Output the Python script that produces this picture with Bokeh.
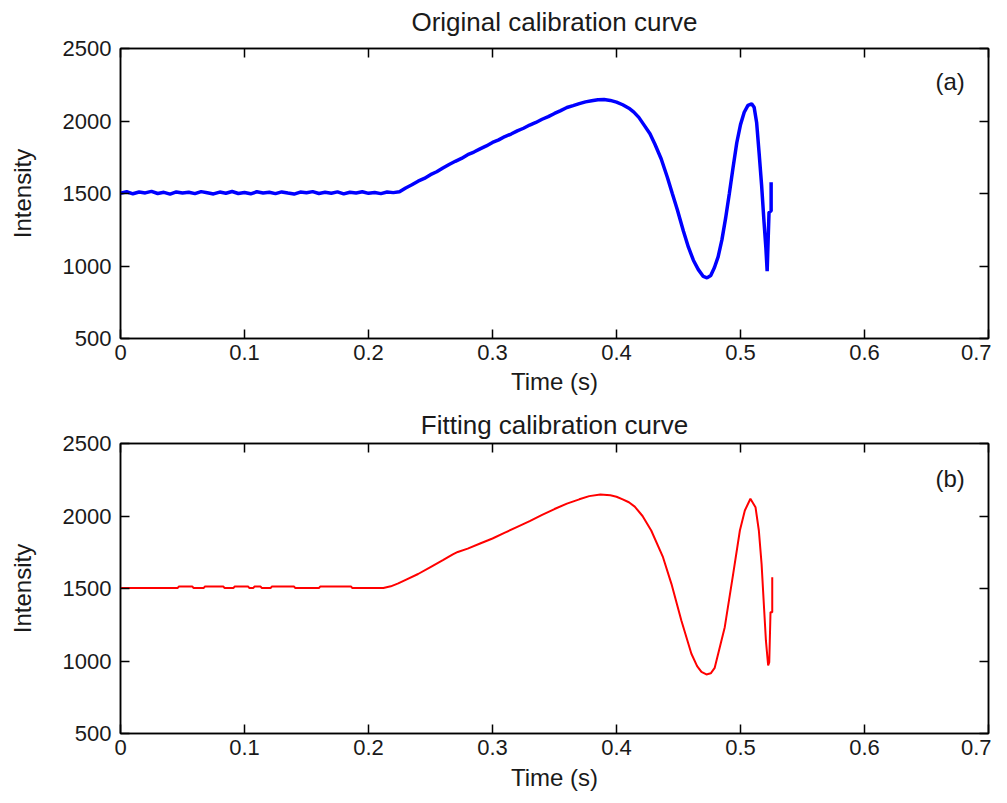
from bokeh.plotting import figure
from bokeh.layouts import column
from bokeh.models import Range1d, FixedTicker, LinearAxis, Label, CustomJSTickFormatter
from bokeh.embed import file_html
from bokeh.resources import INLINE

# ---------------- data ----------------
x_ticks = [0, 0.1, 0.2, 0.3, 0.4, 0.5, 0.6, 0.7]
y_ticks = [500, 1000, 1500, 2000, 2500]

orig_time = [
    0.000, 0.005, 0.010, 0.015, 0.020, 0.025, 0.030, 0.035, 0.040, 0.045,
    0.050, 0.055, 0.060, 0.065, 0.070, 0.075, 0.080, 0.085, 0.090, 0.095,
    0.100, 0.105, 0.110, 0.115, 0.120, 0.125, 0.130, 0.135, 0.140, 0.145,
    0.150, 0.155, 0.160, 0.165, 0.170, 0.175, 0.180, 0.185, 0.190, 0.195,
    0.200, 0.205, 0.210, 0.215, 0.220,
    0.225, 0.230, 0.235, 0.240, 0.245, 0.250, 0.255, 0.260, 0.265, 0.270,
    0.275, 0.280, 0.285, 0.290, 0.295, 0.300, 0.305, 0.310, 0.315, 0.320,
    0.325, 0.330, 0.335, 0.340, 0.345, 0.350, 0.355, 0.360, 0.365, 0.370,
    0.375, 0.380, 0.385, 0.390, 0.395, 0.400, 0.405, 0.410, 0.414, 0.418,
    0.422, 0.427, 0.431, 0.436, 0.441, 0.445, 0.449, 0.454, 0.458, 0.462,
    0.466, 0.470, 0.473, 0.476, 0.479, 0.482, 0.485, 0.488, 0.491, 0.494,
    0.497, 0.500, 0.503, 0.506, 0.509, 0.511, 0.513, 0.515, 0.517, 0.519,
    0.5205, 0.5215, 0.5230, 0.5247, 0.5247,
]
orig_intensity = [
    1502, 1512, 1498, 1510, 1504, 1515, 1500, 1508, 1496, 1511,
    1503, 1509, 1499, 1513, 1505, 1497, 1510, 1502, 1514, 1500,
    1507, 1498, 1512, 1504, 1509, 1499, 1511, 1503, 1496, 1510,
    1505, 1513, 1500, 1508, 1502, 1511, 1497, 1509, 1504, 1512,
    1501, 1507, 1499, 1510, 1506,
    1512, 1538, 1560, 1585, 1604, 1630, 1650, 1676, 1700, 1722,
    1742, 1768, 1786, 1808, 1828, 1852, 1870, 1893, 1910, 1932,
    1950, 1972, 1990, 2012, 2030, 2052, 2072, 2093, 2106, 2120,
    2132, 2140, 2147, 2148, 2142, 2130, 2112, 2088, 2061, 2025,
    1975, 1912, 1840, 1740, 1612, 1500, 1390, 1240, 1130, 1040,
    975, 928, 918, 935, 990, 1065, 1180, 1330, 1500, 1680,
    1850, 1975, 2060, 2108, 2118, 2095, 1990, 1780, 1560, 1300,
    1120, 965, 1370, 1380, 1578,
]

fit_time = [
    0.000, 0.046, 0.047, 0.058, 0.059, 0.067, 0.068, 0.083, 0.084, 0.091,
    0.092, 0.103, 0.104, 0.107, 0.108, 0.113, 0.114, 0.121, 0.122, 0.140,
    0.141, 0.160, 0.161, 0.186, 0.187, 0.212,
    0.218, 0.224, 0.230, 0.240, 0.250, 0.260, 0.268, 0.272, 0.280, 0.290,
    0.300, 0.310, 0.320, 0.330, 0.340, 0.350, 0.360, 0.370, 0.378, 0.387,
    0.395, 0.400, 0.405, 0.410, 0.4147, 0.421, 0.428, 0.4375, 0.4443, 0.4523,
    0.4604, 0.4650, 0.4685, 0.4725, 0.4760, 0.4792, 0.4873, 0.4941, 0.4995, 0.5035,
    0.508, 0.5121, 0.5148, 0.517, 0.5191, 0.5205, 0.5223, 0.5232, 0.5242, 0.5256,
    0.5256,
]
fit_intensity = [
    1503, 1503, 1513, 1513, 1503, 1503, 1513, 1513, 1503, 1503,
    1513, 1513, 1503, 1503, 1513, 1513, 1503, 1503, 1513, 1513,
    1503, 1503, 1513, 1513, 1503, 1503,
    1515, 1535, 1560, 1600, 1648, 1695, 1735, 1752, 1775, 1810,
    1845, 1885, 1925, 1965, 2008, 2048, 2085, 2115, 2137, 2148,
    2143, 2133, 2115, 2095, 2065, 2000, 1900, 1716, 1532, 1279,
    1050, 965, 925, 907, 915, 953, 1233, 1601, 1900, 2038,
    2119, 2061, 1900, 1670, 1350, 1140, 969, 992, 1337, 1337,
    1578,
]

titles = ["Original calibration curve", "Fitting calibration curve"]
panel_tags = ["(a)", "(b)"]
x_label = "Time (s)"
y_label = "Intensity"

FONT = "Liberation Sans"
TEXT_COLOR = "#1a1a1a"


def make_panel(title, title_standoff, tag, tag_y, xs, ys, color, lw,
               border_top, border_bottom, xlabel_standoff):
    p = figure(
        frame_width=868, frame_height=290,
        min_border_left=120, min_border_right=3,
        min_border_top=border_top, min_border_bottom=border_bottom,
        x_range=Range1d(0, 0.7), y_range=Range1d(500, 2500),
        output_backend="svg", toolbar_location=None,
        background_fill_color="white", border_fill_color="white",
    )
    p.title.visible = False

    p.grid.visible = False
    p.outline_line_color = "black"
    p.outline_line_width = 1.5

    xa = p.xaxis[0]
    ya = p.yaxis[0]
    xa.ticker = FixedTicker(ticks=x_ticks)
    ya.ticker = FixedTicker(ticks=y_ticks)
    xa.formatter = CustomJSTickFormatter(code="return String(Math.round(tick*10)/10);")
    for ax in (xa, ya):
        ax.major_tick_in = 9
        ax.major_tick_out = 0
        ax.minor_tick_line_color = None
        ax.axis_line_color = "black"
        ax.axis_line_width = 1.5
        ax.major_tick_line_color = "black"
        ax.major_tick_line_width = 1.5
        ax.major_label_text_font = FONT
        ax.major_label_text_font_size = "22px"
        ax.major_label_text_color = TEXT_COLOR
        ax.axis_label_text_font = FONT
        ax.axis_label_text_font_size = "24px"
        ax.axis_label_text_font_style = "normal"
        ax.axis_label_text_color = TEXT_COLOR
    xa.axis_label = x_label
    ya.axis_label = y_label
    xa.major_label_standoff = 6
    ya.major_label_standoff = 9
    xa.axis_label_standoff = xlabel_standoff
    ya.axis_label_standoff = 24

    blank = "return '';"
    # top axis: ticks only, carries the panel title as its axis label
    top = LinearAxis(ticker=FixedTicker(ticks=x_ticks), formatter=CustomJSTickFormatter(code=blank),
                     major_tick_in=9, major_tick_out=0, minor_tick_line_color=None,
                     major_label_standoff=0, axis_line_width=1.5, major_tick_line_width=1.5,
                     axis_label=title, axis_label_standoff=title_standoff,
                     axis_label_text_font=FONT, axis_label_text_font_size="26px",
                     axis_label_text_font_style="normal", axis_label_text_color=TEXT_COLOR)
    right = LinearAxis(ticker=FixedTicker(ticks=y_ticks), formatter=CustomJSTickFormatter(code=blank),
                       major_tick_in=9, major_tick_out=0, minor_tick_line_color=None,
                       major_label_standoff=0, axis_line_width=1.5, major_tick_line_width=1.5)
    p.add_layout(top, "above")
    p.add_layout(right, "right")

    p.line(xs, ys, line_color=color, line_width=lw)

    p.add_layout(Label(x=0.669, y=tag_y, text=tag,
                       text_font=FONT, text_font_size="24px", text_color=TEXT_COLOR,
                       text_align="center", text_baseline="middle"))
    return p


p1 = make_panel(titles[0], 12, panel_tags[0], 2269, orig_time, orig_intensity,
                "#0000ff", 3.5, 48, 65, 5)
p2 = make_panel(titles[1], 4, panel_tags[1], 2259, fit_time, fit_intensity,
                "#ff0000", 2, 40, 62, 6)

layout = column(p1, p2, spacing=0)
open("out.html", "w").write(file_html(layout, INLINE))
